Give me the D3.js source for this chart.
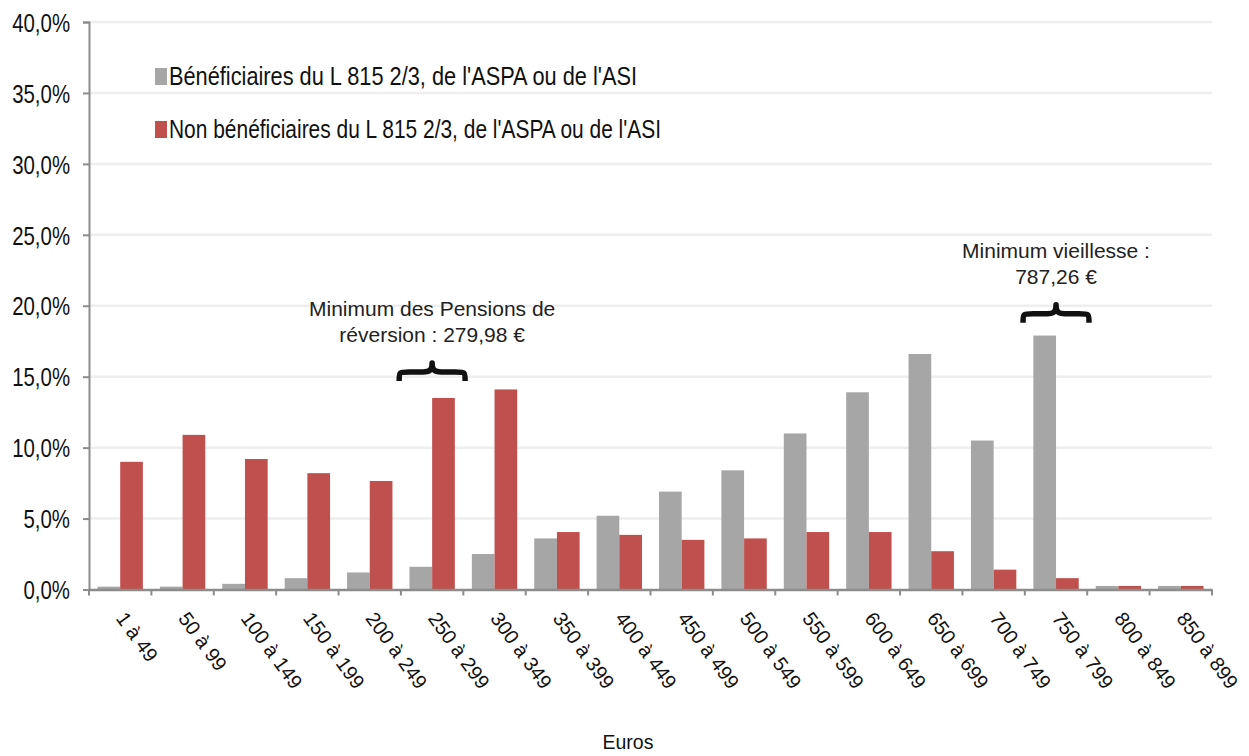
<!DOCTYPE html>
<html><head><meta charset="utf-8">
<script src="https://cdn.jsdelivr.net/npm/d3@7"></script>
<style>body{margin:0;background:#fff}svg{display:block}</style>
</head><body><svg id="c" width="1249" height="756"></svg>
<script>
const categories = ["1 à 49","50 à 99","100 à 149","150 à 199","200 à 249","250 à 299","300 à 349","350 à 399","400 à 449","450 à 499","500 à 549","550 à 599","600 à 649","650 à 699","700 à 749","750 à 799","800 à 849","850 à 899"];
const beneficiaires = [0.2,0.2,0.4,0.8,1.2,1.6,2.5,3.6,5.2,6.9,8.4,11.0,13.9,16.6,10.5,17.9,0.25,0.25];
const nonBeneficiaires = [9.0,10.9,9.2,8.2,7.65,13.5,14.1,4.05,3.85,3.5,3.6,4.05,4.05,2.7,1.4,0.8,0.25,0.25];
const seriesNames = ["Bénéficiaires du L 815 2/3, de l'ASPA ou de l'ASI","Non bénéficiaires du L 815 2/3, de l'ASPA ou de l'ASI"];
const yTicks = [0,5,10,15,20,25,30,35,40];
const annotations = [
  {cat:"250 à 299", lines:["Minimum des Pensions de","réversion : 279,98 €"], level:14.7},
  {cat:"750 à 799", lines:["Minimum vieillesse :","787,26 €"], level:18.8}
];
const colors = ["#a6a6a6","#c0504d"];

const svg = d3.select("#c");
const L=89, R=1212, T=22, B=589.5;
const x = d3.scaleBand().domain(categories).range([L,R]).paddingInner(0).paddingOuter(0);
const y = d3.scaleLinear().domain([0,40]).range([B,T]);
const inner = d3.scaleBand().domain([0,1]).range([0,x.bandwidth()]).paddingInner(0).paddingOuter(0.375);

// gridlines
svg.append("g").selectAll("line").data(yTicks.filter(d=>d>0)).join("line")
  .attr("x1",L).attr("x2",R).attr("y1",d=>y(d)).attr("y2",d=>y(d))
  .attr("stroke","#eeeeee").attr("stroke-width",2.5);

// bars
const series=[beneficiaires,nonBeneficiaires];
series.forEach((vals,si)=>{
  svg.append("g").selectAll("rect").data(vals).join("rect")
    .attr("x",(d,i)=>x(categories[i])+inner(si))
    .attr("width",inner.bandwidth())
    .attr("y",d=>y(d)).attr("height",d=>B-y(d))
    .attr("fill",colors[si]);
});

// y axis
const sx = 0.8;
const yAxis = d3.axisLeft(y).tickValues(yTicks).tickSize(6).tickPadding(12)
  .tickFormat(d=>d.toFixed(1).replace(".",",")+"%");
const gy = svg.append("g").attr("transform",`translate(${L},0)`).call(yAxis);
gy.select(".domain").attr("stroke","#8c8c8c").attr("stroke-width",2);
gy.selectAll(".tick line").attr("stroke","#8c8c8c").attr("stroke-width",2);
gy.selectAll(".tick text").attr("font-family","'Liberation Sans',Arial,sans-serif")
  .attr("font-size",25.5).attr("fill","#111").attr("dy","0.36em")
  .attr("x",-19/sx).attr("transform",`scale(${sx},1)`);

// x axis
const xAxis = d3.axisBottom(x).tickSize(0).tickFormat("");
const gx = svg.append("g").attr("transform",`translate(0,${B})`).call(xAxis);
gx.select(".domain").attr("stroke","#8c8c8c").attr("stroke-width",2.5);
const bounds = categories.map(c=>x(c)).concat([R]);
gx.append("g").selectAll("line").data(bounds).join("line")
  .attr("x1",d=>d).attr("x2",d=>d).attr("y1",0).attr("y2",6)
  .attr("stroke","#8c8c8c").attr("stroke-width",2);
gx.append("g").selectAll("text").data(categories).join("text")
  .attr("transform",d=>`translate(${x(d)+x.bandwidth()/2-5},${29}) rotate(54)`)
  .attr("text-anchor","start")
  .attr("font-family","'Liberation Sans',Arial,sans-serif").attr("font-size",20).attr("fill","#111")
  .text(d=>d);

// x title
svg.append("text").attr("x",628).attr("y",749).attr("text-anchor","middle")
  .attr("font-family","'Liberation Sans',Arial,sans-serif").attr("font-size",19.5).attr("fill","#111").text("Euros");

// legend
const lg = svg.append("g");
seriesNames.forEach((n,i)=>{
  const base = 85 + i*53;
  lg.append("rect").attr("x",155).attr("y",base-17).attr("width",12).attr("height",17).attr("fill",colors[i]);
  lg.append("text").attr("x",169).attr("y",base)
    .attr("font-family","'Liberation Sans',Arial,sans-serif")
    .attr("font-size",25.5).attr("fill","#111")
    .attr("textLength", i===0?468:492).attr("lengthAdjust","spacingAndGlyphs")
    .text(n);
});

// annotations with braces
annotations.forEach(a=>{
  const xc = x(a.cat)+x.bandwidth()/2;
  const yb = y(a.level);
  const ym = yb-9, yt = yb-18;
  const hw = 33;
  const x0=xc-hw, x1=xc+hw;
  const p = `M${x0},${yb} C${x0},${ym} ${x0},${ym} ${x0+10},${ym} L${xc-9},${ym} C${xc-2},${ym} ${xc},${ym-2} ${xc},${yt} C${xc},${ym-2} ${xc+2},${ym} ${xc+9},${ym} L${x1-10},${ym} C${x1},${ym} ${x1},${ym} ${x1},${yb}`;
  svg.append("path").attr("d",p).attr("fill","none").attr("stroke","#111").attr("stroke-width",5.5).attr("stroke-linejoin","round").attr("stroke-linecap","butt");
  const t = svg.append("text").attr("text-anchor","middle")
    .attr("font-family","'Liberation Sans',Arial,sans-serif").attr("font-size",21).attr("fill","#222");
  a.lines.forEach((l,k)=>{
    t.append("tspan").attr("x",xc).attr("y",yt-47+k*26.5).text(l);
  });
});
</script></body></html>
